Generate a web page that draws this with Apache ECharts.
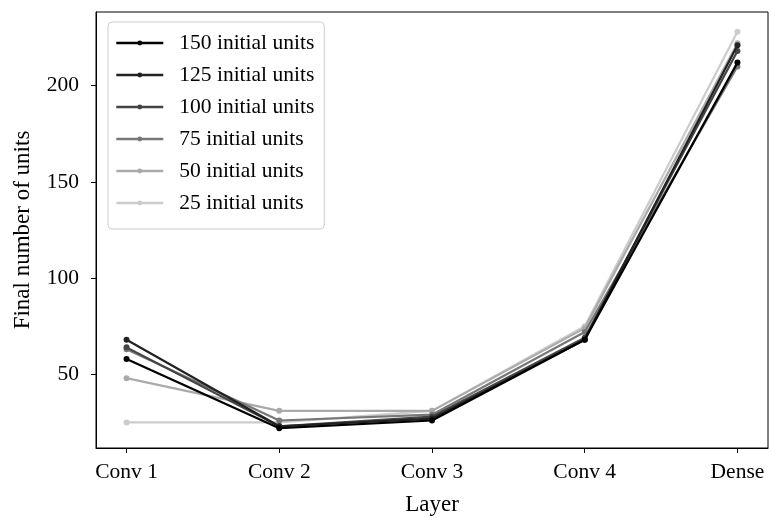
<!DOCTYPE html>
<html>
<head>
<meta charset="utf-8">
<script src="https://cdn.jsdelivr.net/npm/echarts@6/dist/echarts.min.js"></script>
<style>
  html, body { margin: 0; padding: 0; background: #fff; }
  #chart { width: 769px; height: 518px; }
</style>
</head>
<body>
<div id="chart"></div>
<script>
// Layers on the x axis
const layers = ['Conv 1', 'Conv 2', 'Conv 3', 'Conv 4', 'Dense'];

// Final number of units per layer, for each starting width
const units150 = [58, 22, 26, 68, 212];
const units125 = [68, 23, 27, 68, 221];
const units100 = [64, 23, 28, 69, 218];
const units75  = [63, 26, 29, 72, 210];
const units50  = [48, 31, 31, 74, 222];
const units25  = [25, 25, 31, 75, 228];

const seriesNames = ['150 initial units', '125 initial units', '100 initial units',
                     '75 initial units', '50 initial units', '25 initial units'];
const seriesValues = [units150, units125, units100, units75, units50, units25];
const seriesColors = ['#000000', '#222222', '#444444', '#777777', '#aaaaaa', '#cccccc'];

const yTicks = [50, 100, 150, 200];

const FONT = '"Liberation Serif", "DejaVu Serif", serif';

const chart = echarts.init(document.getElementById('chart'), null, { renderer: 'canvas' });

const series = seriesNames.map((name, k) => ({
  name: name,
  type: 'line',
  data: seriesValues[k].map((v, i) => [i, v]),
  symbol: 'circle',
  symbolSize: 6,
  showSymbol: true,
  lineStyle: { width: 2.2, color: seriesColors[k] },
  itemStyle: { color: seriesColors[k] },
  z: 10 - k,
  animation: false
}));

chart.setOption({
  animation: false,
  grid: {
    left: 96, right: 1, top: 12, bottom: 70,
    outerBoundsMode: 'none',
    containLabel: false,
    show: true, borderColor: '#000', borderWidth: 1, backgroundColor: 'transparent'
  },
  legend: {
    orient: 'vertical',
    left: 108, top: 22,
    data: seriesNames,
    itemWidth: 47, itemHeight: 6, itemGap: 10,
    padding: [10, 10, 15, 7],
    borderColor: '#cccccc', borderWidth: 1, borderRadius: 4,
    backgroundColor: 'rgba(255,255,255,0.8)',
    lineStyle: { width: 2.6 },
    textStyle: { fontFamily: FONT, fontSize: 21.5, color: '#000', padding: [0, 0, 0, 11], lineHeight: 21 }
  },
  xAxis: {
    type: 'value',
    min: -0.2, max: 4.2,
    name: 'Layer', nameLocation: 'middle', nameGap: 45,
    nameTextStyle: { fontFamily: FONT, fontSize: 23, color: '#000' },
    splitLine: { show: false },
    axisLine: { show: true, onZero: false, lineStyle: { color: '#000', width: 1 } },
    axisTick: { show: true, inside: false, length: 5, customValues: [0, 1, 2, 3, 4], lineStyle: { color: '#000' } },
    axisLabel: {
      customValues: [0, 1, 2, 3, 4],
      formatter: v => layers[Math.round(v)],
      fontFamily: FONT, fontSize: 21.5, color: '#000', margin: 13
    }
  },
  yAxis: {
    type: 'value',
    min: 11.7, max: 238.3,
    name: 'Final number of units', nameLocation: 'middle', nameGap: 62,
    nameTextStyle: { fontFamily: FONT, fontSize: 23, color: '#000' },
    splitLine: { show: false },
    axisLine: { show: true, onZero: false, lineStyle: { color: '#000', width: 1 } },
    axisTick: { show: true, inside: false, length: 5, customValues: yTicks, lineStyle: { color: '#000' } },
    axisLabel: {
      customValues: yTicks,
      fontFamily: FONT, fontSize: 21.5, color: '#000', margin: 17
    }
  },
  series: series
});
</script>
</body>
</html>
